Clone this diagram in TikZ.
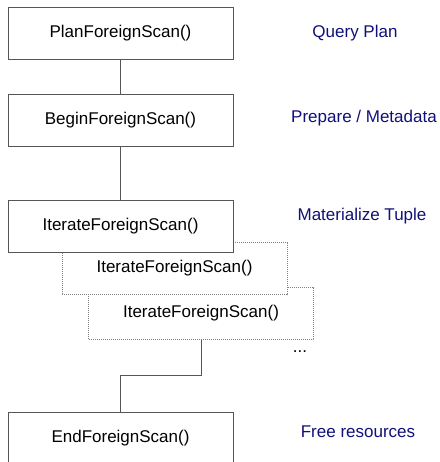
\documentclass[tikz,border=0pt]{standalone}
\usepackage{fontspec}
\setmainfont{Liberation Sans}
\definecolor{labelblue}{HTML}{10107A}
\definecolor{edgegray}{HTML}{555555}
\begin{document}
\begin{tikzpicture}[x=1pt,y=-1pt,
  font=\fontsize{17}{20}\selectfont,
  fnbox/.style={draw=edgegray,line width=0.8pt,fill=white,minimum width=225pt,minimum height=52pt,inner sep=0pt},
  ghostbox/.style={fnbox,draw=gray,dash pattern=on 1pt off 1pt,line width=0.7pt},
  link/.style={draw=edgegray,line width=0.8pt},
  phase/.style={text=labelblue,inner sep=0pt}]
\useasboundingbox (0,0) rectangle (439,462);
\clip (0,0) rectangle (439,462);

% stacked repeated iterations (drawn back to front)
\node[ghostbox] (it3) at (201,313.5) {IterateForeignScan()};
\node[ghostbox] (it2) at (174.5,268.5) {IterateForeignScan()};

% main call sequence
\node[fnbox] (plan)  at (120.5,33)    {PlanForeignScan()};
\node[fnbox] (begin) at (120.5,120.5) {BeginForeignScan()};
\node[fnbox] (it1)   at (120.5,226)   {IterateForeignScan()};
\node[fnbox] (end)   at (120.5,438)   {EndForeignScan()};

\draw[link] (plan) -- (begin);
\draw[link] (begin) -- (it1);
\draw[link] (it3.south) -- ++(0,36) -| (end.north);

\node[inner sep=0pt] (more) at (300,352) {...};

% phase labels
\node[phase] (qp)  at (355,33)  {Query Plan};
\node[phase] (pm)  at (364,118) {Prepare / Metadata};
\node[phase] (mt)  at (362,216) {Materialize Tuple};
\node[phase] (fr)  at (358,432) {Free resources};
\end{tikzpicture}
\end{document}
